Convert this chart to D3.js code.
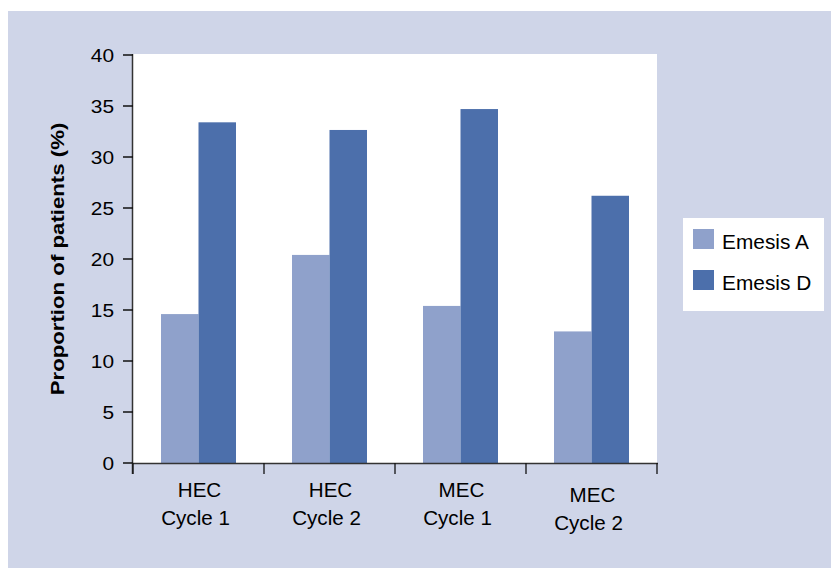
<!DOCTYPE html>
<html><head><meta charset="utf-8">
<script src="https://cdn.jsdelivr.net/npm/d3@7"></script>
<style>html,body{margin:0;padding:0;background:#fff;}svg{display:block;}</style>
</head><body>
<script>
const categories = [["HEC","Cycle 1"],["HEC","Cycle 2"],["MEC","Cycle 1"],["MEC","Cycle 2"]];
const seriesNames = ["Emesis A","Emesis D"];
const emesisA = [14.6, 20.4, 15.4, 12.9];
const emesisD = [33.4, 32.65, 34.7, 26.2];
const yTicks = [0,5,10,15,20,25,30,35,40];
const colors = ["#8fa1cb","#4c6fab"];

(function(){
const W = 831, H = 572;
const svg = d3.select("body").append("svg").attr("width", W).attr("height", H);
const font = "'Liberation Sans', Arial, Helvetica, sans-serif";

svg.append("rect").attr("x",8).attr("y",11).attr("width",W-8).attr("height",557).attr("fill","#cfd5e8");

const pL = 133, pR = 657, pT = 55, pB = 463;
const y = d3.scaleLinear().domain([0,40]).range([pB, pT]);
const x0 = d3.scaleBand().domain(d3.range(categories.length)).range([pL, pR]).paddingInner(0).paddingOuter(0);
const x1 = d3.scaleBand().domain(seriesNames).range([28, x0.bandwidth()-28]);

svg.append("rect").attr("x",pL).attr("y",pT-1).attr("width",pR-pL).attr("height",pB-pT+1).attr("fill","#fff");

const data = categories.map((c,i)=>({i, vals:[emesisA[i], emesisD[i]]}));
const g = svg.append("g");
g.selectAll("g.cat").data(data).join("g").attr("class","cat")
  .attr("transform", d=>`translate(${x0(d.i)},0)`)
  .selectAll("rect").data(d=>d.vals.map((v,k)=>({v,k})))
  .join("rect")
  .attr("x", d=>x1(seriesNames[d.k]))
  .attr("width", x1.bandwidth())
  .attr("y", d=>y(d.v))
  .attr("height", d=>y(0)-y(d.v))
  .attr("fill", d=>colors[d.k]);

function stext(sel, x, yy, txt, size, sx, anchor, rot, weight){
  return sel.append("text")
    .attr("transform", `translate(${x},${yy}) rotate(${rot||0}) scale(${sx},1)`)
    .attr("text-anchor", anchor)
    .attr("font-family", font)
    .attr("font-size", size)
    .attr("font-weight", weight||"normal")
    .attr("fill","#000")
    .text(txt);
}

const axisColor = "#333";
const yAxis = svg.append("g");
yAxis.append("line").attr("x1",pL-0.5).attr("x2",pL-0.5).attr("y1",pT-1).attr("y2",pB+11).attr("stroke",axisColor).attr("stroke-width",1.5);
yTicks.forEach(t=>{
  yAxis.append("line").attr("x1",pL-10).attr("x2",pL).attr("y1",y(t)).attr("y2",y(t)).attr("stroke","#111").attr("stroke-width",1.5);
  stext(yAxis, pL-19, y(t)+6.5, String(t), 18.5, 1.13, "end");
});
const xAxis = svg.append("g");
xAxis.append("line").attr("x1",pL-1).attr("x2",pR+1).attr("y1",pB+0.5).attr("y2",pB+0.5).attr("stroke",axisColor).attr("stroke-width",1.5);
const bounds = d3.range(categories.length+1).map(i=> i<categories.length ? x0(i) : x0(i-1)+x0.bandwidth());
bounds.forEach(b=>{
  xAxis.append("line").attr("x1",b).attr("x2",b).attr("y1",pB).attr("y2",pB+11).attr("stroke","#111").attr("stroke-width",1.3);
});
categories.forEach((c,i)=>{
  const cx = x0(i)+x0.bandwidth()/2;
  const off = i===3 ? 5 : 0;
  stext(xAxis, cx+1, 497+off, c[0], 20, 1.03, "middle");
  stext(xAxis, cx-3, 525+off, c[1], 20, 1.03, "middle");
});

stext(svg, 64, 259, "Proportion of patients (%)", 19, 1.17, "middle", -90, "bold");

const lg = svg.append("g");
lg.append("rect").attr("x",683).attr("y",218).attr("width",141).attr("height",93).attr("fill","#fff");
seriesNames.forEach((s,k)=>{
  lg.append("rect").attr("x",693).attr("y",229+k*41).attr("width",21).attr("height",20).attr("fill",colors[k]);
  stext(lg, 722, 249+k*41, s, 19.5, 1.07, "start");
});
})();
</script>
</body></html>
